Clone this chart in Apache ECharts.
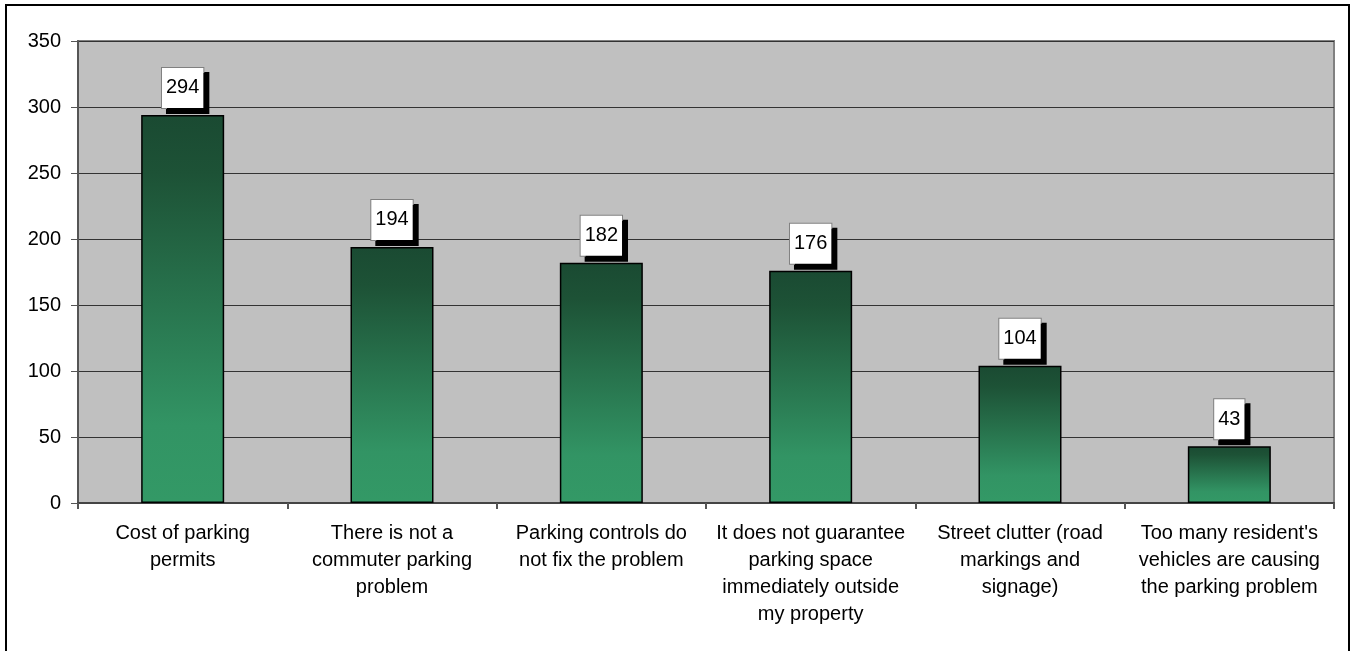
<!DOCTYPE html>
<html>
<head>
<meta charset="utf-8">
<script src="https://cdn.jsdelivr.net/npm/echarts@6/dist/echarts.min.js"></script>
<style>
    html, body { margin: 0; padding: 0; background: #fff; overflow: hidden; }
    #frame {
        position: absolute; left: 5px; top: 4px;
        width: 1341px; height: 700px;
        border: 2px solid #000;
    }
    #chart { position: absolute; left: 0; top: 0; width: 1354px; height: 651px; }
</style>
</head>
<body>
<div id="frame"></div>
<div id="chart"></div>
<script>
// 数据
const categories = [
    'Cost of parking\npermits',
    'There is not a\ncommuter parking\nproblem',
    'Parking controls do\nnot fix the problem',
    'It does not guarantee\nparking space\nimmediately outside\nmy property',
    'Street clutter (road\nmarkings and\nsignage)',
    "Too many resident's\nvehicles are causing\nthe parking problem"
];
const counts = [294, 194, 182, 176, 104, 43];
const yMin = 0;
const yMax = 350;
const yStep = 50;

const chart = echarts.init(document.getElementById('chart'));

// 柱子渐变：顶部深绿 -> 底部浅绿
const barGradient = new echarts.graphic.LinearGradient(0, 0, 0, 1, [
    { offset: 0, color: '#1a4a32' },
    { offset: 0.15, color: '#1d5236' },
    { offset: 0.8, color: '#329464' },
    { offset: 1, color: '#339966' }
]);

chart.setOption({
    animation: false,
    textStyle: { fontFamily: '"Liberation Sans", Arial, sans-serif' },
    grid: {
        left: 78, top: 41, right: 20, bottom: 148,
        show: true,
        backgroundColor: '#c0c0c0',
        borderColor: '#808080',
        borderWidth: 2
    },
    xAxis: {
        type: 'category',
        data: categories,
        axisLine: { lineStyle: { color: '#444', width: 2 } },
        axisTick: { show: true, length: 6, lineStyle: { color: '#555', width: 2 } },
        axisLabel: {
            color: '#000', fontSize: 20, lineHeight: 27, margin: 17,
            interval: 0, align: 'center'
        }
    },
    yAxis: {
        type: 'value',
        min: yMin, max: yMax, interval: yStep,
        axisLine: { show: true, lineStyle: { color: '#555', width: 2 } },
        axisTick: { show: true, length: 7, lineStyle: { color: '#555', width: 1 } },
        axisLabel: { color: '#000', fontSize: 20, margin: 17 },
        splitLine: { lineStyle: { color: '#333', width: 1 } }
    },
    series: [{
        type: 'bar',
        data: counts,
        barWidth: 83,
        itemStyle: { color: barGradient, borderColor: '#000', borderWidth: 1.5 },
        label: {
            show: true,
            position: 'top',
            distance: 7,
            color: '#000',
            fontSize: 20,
            lineHeight: 20,
            backgroundColor: '#fff',
            borderColor: '#808080',
            borderWidth: 1,
            padding: [10, 4, 10, 4],
            shadowColor: '#000',
            shadowOffsetX: 5,
            shadowOffsetY: 5,
            shadowBlur: 0
        }
    }]
});

window.addEventListener('resize', () => chart.resize());
</script>
</body>
</html>
